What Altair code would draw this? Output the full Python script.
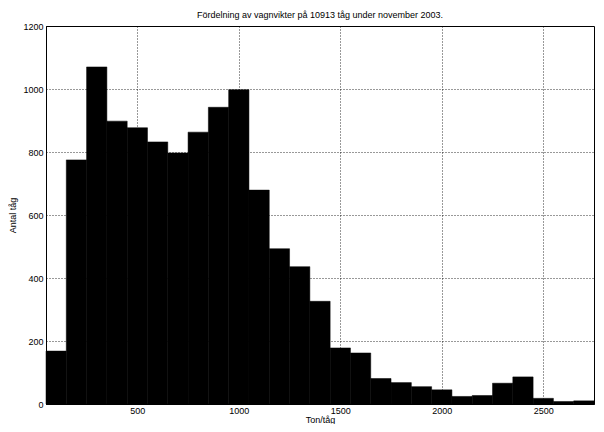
import altair as alt
import pandas as pd

# Histogram: bin centres (width 100) and counts
bin_centers = [100, 200, 300, 400, 500, 600, 700, 800, 900, 1000,
               1100, 1200, 1300, 1400, 1500, 1600, 1700, 1800, 1900, 2000,
               2100, 2200, 2300, 2400, 2500, 2600, 2700]
counts = [168, 775, 1070, 898, 877, 832, 797, 863, 942, 998,
          679, 493, 436, 326, 178, 162, 81, 68, 55, 45,
          24, 27, 66, 86, 18, 8, 10]
x_ticks = [500, 1000, 1500, 2000, 2500]
y_ticks = [0, 200, 400, 600, 800, 1000, 1200]

title_text = "Fördelning av vagnvikter på 10913 tåg under november 2003."
x_title = "Ton/tåg"
y_title = "Antal tåg"

df = pd.DataFrame({"center": bin_centers, "count": counts})

FONT = "Liberation Sans"

chart = (
    alt.Chart(df)
    .transform_calculate(start="datum.center - 50", end="datum.center + 50")
    .mark_bar(color="black", stroke="black", strokeWidth=0.5)
    .encode(
        x=alt.X(
            "start:Q",
            scale=alt.Scale(domain=[50, 2750], nice=False, zero=False),
            axis=alt.Axis(values=x_ticks, title=x_title, labelPadding=2,
                          titlePadding=0, format="d"),
        ),
        x2="end:Q",
        y=alt.Y(
            "count:Q",
            scale=alt.Scale(domain=[0, 1200], nice=False),
            axis=alt.Axis(values=y_ticks, title=y_title, labelPadding=3,
                          titlePadding=5, format="d"),
        ),
        y2=alt.datum(0),
    )
    .properties(
        width=548,
        height=378,
        title=alt.Title(title_text, fontSize=9, fontWeight="normal",
                        font=FONT, color="black", offset=2),
        autosize=alt.AutoSizeParams(type="none"),
        padding={"left": 38, "top": 18, "right": 2, "bottom": 20},
    )
    .configure_view(stroke="black", strokeWidth=1)
    .configure_axis(
        labelFont=FONT,
        labelFontSize=9,
        labelColor="black",
        titleFont=FONT,
        titleFontSize=9,
        titleFontWeight="normal",
        titleColor="black",
        domainColor="black",
        domainWidth=1,
        tickSize=0,
        grid=True,
        gridColor="black",
        gridDash=[1, 2],
        gridOpacity=0.8,
        gridWidth=1,
    )
)

chart.save("out.html", embed_options={"renderer": "svg", "actions": False})
